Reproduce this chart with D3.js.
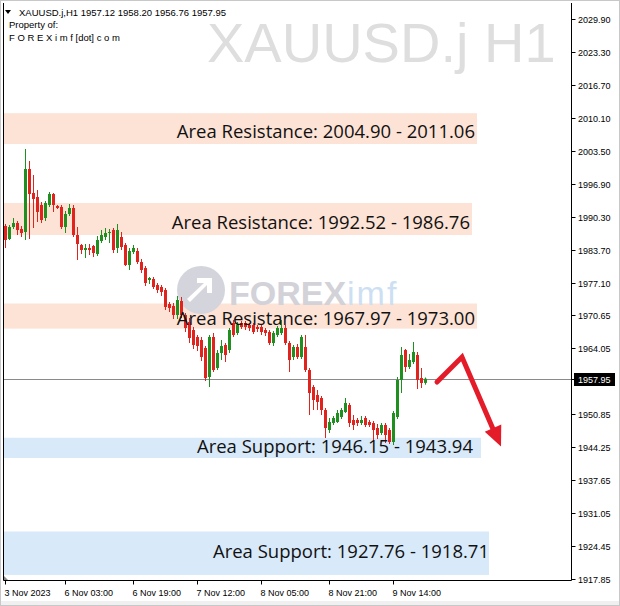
<!DOCTYPE html>
<html><head><meta charset="utf-8">
<script src="https://cdn.jsdelivr.net/npm/d3@7"></script>
<style>html,body{margin:0;padding:0;background:#fff;}svg{display:block;}</style>
</head><body>
<script>
// ---- data ----
const ohlcHeader = ["1957.12", "1958.20", "1956.76", "1957.95"];
const openP = [1988.5,1985.9,1988.3,1989.1,1987.9,1987.3,1999.9,1995.1,1994.3,1992.7,
1990.1,1992.7,1994.9,1992.5,1992.3,1988.3,1990.9,1992.1,1986.7,1984.7,
1983.7,1984.1,1984.5,1982.9,1985.5,1986.3,1987.1,1987.7,1984.1,1986.3,
1984.7,1980.7,1983.3,1983.5,1981.3,1980.1,1977.7,1977.9,1976.7,1976.3,
1975.7,1972.9,1972.5,1970.7,1973.5,1970.7,1969.3,1967.7,1966.3,1965.7,
1964.1,1958.3,1966.3,1960.1,1963.1,1964.7,1963.7,1969.1,1967.1,1969.1,
1969.1,1968.7,1968.7,1968.3,1968.3,1967.7,1967.3,1965.1,1966.7,1967.1,
1968.1,1965.1,1962.3,1964.3,1962.3,1964.3,1959.7,1956.3,1954.7,1954.1,
1951.7,1947.7,1949.1,1949.3,1950.3,1951.3,1952.7,1949.7,1949.7,1949.1,
1950.1,1949.3,1949.1,1948.1,1947.1,1948.7,1947.7,1945.3,1950.3,1957.7,
1963.7,1960.3,1961.3,1962.7,1958.1,1957.12];
const highP = [1988.9,1988.7,1990.1,1989.5,1988.5,2003.9,2001.5,1998.7,1995.7,1993.3,
1993.5,1995.3,1995.1,1992.7,1992.7,1991.5,1992.9,1992.7,1988.3,1984.9,
1984.9,1984.9,1984.7,1986.5,1987.7,1988.1,1987.9,1988.1,1988.9,1987.3,
1985.1,1984.1,1984.7,1984.1,1981.9,1980.5,1978.3,1978.3,1977.1,1976.7,
1976.1,1973.3,1973.1,1974.5,1974.3,1971.1,1970.1,1968.3,1966.7,1966.3,
1964.5,1966.7,1967.1,1963.7,1965.7,1965.1,1968.1,1969.7,1969.3,1969.5,
1969.5,1969.1,1969.1,1968.7,1968.7,1968.1,1967.7,1967.5,1968.5,1969.7,
1968.7,1965.5,1964.7,1964.9,1966.7,1966.7,1960.1,1956.7,1955.7,1954.5,
1952.1,1950.1,1950.5,1951.7,1952.1,1954.1,1953.1,1950.7,1950.1,1950.5,
1950.5,1949.7,1949.5,1948.9,1949.1,1949.1,1948.1,1951.5,1958.3,1964.3,
1963.9,1962.9,1965.3,1963.3,1960.1,1958.20];
const lowP = [1984.1,1985.7,1987.9,1986.7,1986.3,1985.7,1985.9,1988.1,1989.3,1989.1,
1989.5,1992.3,1991.3,1991.9,1987.9,1987.1,1990.5,1986.3,1981.7,1982.9,
1982.1,1982.7,1982.3,1982.5,1985.1,1985.7,1985.1,1983.1,1983.1,1983.7,
1980.5,1979.7,1982.9,1980.9,1979.1,1976.5,1976.9,1975.9,1975.1,1974.5,
1971.7,1971.3,1969.9,1969.9,1970.1,1967.3,1965.1,1963.9,1963.5,1961.5,
1957.5,1956.3,1959.3,1959.7,1961.7,1961.3,1963.1,1966.3,1966.7,1967.9,
1967.7,1967.5,1966.9,1967.3,1966.7,1966.5,1964.7,1964.5,1966.3,1966.7,
1964.7,1959.3,1961.7,1961.9,1961.9,1959.3,1950.7,1951.7,1951.7,1950.7,
1946.1,1947.1,1948.7,1949.1,1949.9,1951.1,1948.3,1947.7,1948.5,1948.7,
1948.3,1948.3,1945.7,1945.9,1946.7,1945.1,1944.9,1944.7,1949.9,1955.1,
1959.3,1959.9,1960.9,1955.9,1956.1,1956.76];
const closeP = [1985.7,1988.3,1989.1,1987.7,1987.1,1999.9,1994.9,1993.9,1991.3,1989.7,
1993.1,1994.9,1992.7,1992.1,1988.3,1990.9,1992.1,1986.7,1984.9,1983.7,
1984.1,1983.7,1983.1,1985.7,1986.7,1987.1,1987.3,1983.7,1987.7,1984.3,
1980.7,1983.5,1984.1,1981.3,1979.7,1977.1,1978.1,1976.3,1975.7,1975.3,
1972.3,1972.1,1970.7,1973.7,1970.7,1968.1,1966.1,1964.7,1964.5,1962.3,
1958.1,1966.3,1959.7,1963.1,1964.5,1962.7,1967.7,1966.7,1968.7,1968.3,
1968.3,1968.1,1967.3,1967.9,1967.3,1967.1,1965.1,1967.1,1968.1,1968.1,
1965.1,1961.7,1964.3,1962.3,1966.3,1959.7,1955.1,1953.7,1953.3,1951.7,
1948.1,1949.3,1950.1,1951.1,1951.7,1953.1,1949.1,1948.7,1949.1,1949.7,
1948.7,1948.7,1947.7,1946.7,1948.7,1946.7,1945.3,1951.1,1957.7,1962.7,
1960.3,1961.7,1963.3,1957.7,1957.1,1957.95];
const priceTicks = ["2029.90","2023.30","2016.70","2010.10","2003.50","1996.90","1990.30","1983.70","1977.10","1970.65","1964.05","1950.85","1944.25","1937.65","1931.05","1924.45","1917.85"];
const lastPrice = 1957.95;
const timeLabels = ["3 Nov 2023","6 Nov 03:00","6 Nov 19:00","7 Nov 12:00","8 Nov 05:00","8 Nov 21:00","9 Nov 14:00"];
const timeIdx = [0,15,32,48,64,81,97];
// zones: upper price, lower price, right-end bar index, label text, label centre price
const zoneKind  = ["res","res","res","sup","sup"];
const zoneTop   = [2011.06, 1993.1, 1973.00, 1946.15, 1927.40];
const zoneBot   = [2004.90, 1986.7, 1967.97, 1942.10, 1918.71];
const zoneEnd   = [118, 116.75, 118, 119, 121];
const zoneLabel = ["Area Resistance: 2004.90 - 2011.06","Area Resistance: 1992.52 - 1986.76","Area Resistance: 1967.97 - 1973.00","Area Support: 1946.15 - 1943.94","Area Support: 1927.76 - 1918.71"];
const zoneLabelEnd = [117.5, 116.25, 117.5, 117, 121];
const zoneLabelPrice = [2007.4, 1989.2, 1970.0, 1944.4, 1923.4];
// forecast arrow in (bar index, price)
const arrowIdx = [108, 114.25, 122.6];
const arrowPx  = [1957.3, 1962.3, 1946.8];
const arrowTip = [124, 1944.4];

// ---- layout ----
const W = 620, H = 606;
const L = 3.5, R = 571.5, T = 3, B = 580.5;
const svg = d3.select("body").append("svg").attr("width", W).attr("height", H);
svg.append("rect").attr("width", W).attr("height", H).attr("fill", "#fff");
svg.append("rect").attr("x",0).attr("y",601).attr("width",W).attr("height",5).attr("fill","#f0f0f0");
svg.append("rect").attr("x",0.5).attr("y",0.5).attr("width",W-1).attr("height",H-1).attr("fill","none").attr("stroke","#c8c8c8");

const y = d3.scaleLinear().domain([1917.85, 2029.90]).range([579.25, 19]);
const x = d3.scaleLinear().domain([0, 105]).range([5, 425]);

// watermark
svg.append("text").attr("x", 207).attr("y", 62).attr("font-family","Liberation Sans, Arial, sans-serif")
  .attr("font-size", 56).attr("fill", "#dedede").text("XAUUSD.j H1");

// zones
const zones = zoneKind.map((k,i)=>({k, top:zoneTop[i], bot:zoneBot[i], end:zoneEnd[i], label:zoneLabel[i], lend:zoneLabelEnd[i], lp:zoneLabelPrice[i]}));
svg.append("g").selectAll("rect").data(zones).join("rect")
  .attr("x", L+0.5).attr("y", d=>y(d.top)).attr("width", d=>x(d.end)-L-0.5)
  .attr("height", d=>y(d.bot)-y(d.top))
  .attr("fill", d=>d.k==="res" ? "#fde3d6" : "#d8e9f9");

// FOREXimf logo watermark
const logo = svg.append("g");
logo.append("circle").attr("cx", 201).attr("cy", 290).attr("r", 24).attr("fill", "#d4d4dc");
logo.append("path").attr("d","M190,302 L207,285 L207,293 L212,293 L212,278 L197,278 L197,283 L204,283 L187,299 Z").attr("fill","#fff");
logo.append("text").attr("x", 229).attr("y", 305).attr("font-family","Liberation Sans, Arial, sans-serif")
  .attr("font-weight","bold").attr("font-size", 34).attr("fill","#d2d2d8").text("FOREX");
logo.append("text").attr("x", 347).attr("y", 305).attr("font-family","Liberation Sans, Arial, sans-serif")
  .attr("font-size", 34).attr("letter-spacing", 2).attr("fill","#cddff3").text("imf");

// current price line
svg.append("line").attr("x1", L).attr("x2", R).attr("y1", Math.round(y(lastPrice))+0.5).attr("y2", Math.round(y(lastPrice))+0.5)
  .attr("stroke", "#8a8a8a").attr("stroke-width", 1);

// candles
const candles = openP.map((o,i)=>({i, o, h:highP[i], l:lowP[i], c:closeP[i]}));
const cg = svg.append("g");
const up = "#1f8f1f", dn = "#e0231c";
cg.selectAll("line").data(candles).join("line")
  .attr("x1", d=>Math.round(x(d.i))+0.5).attr("x2", d=>Math.round(x(d.i))+0.5)
  .attr("y1", d=>y(d.h)).attr("y2", d=>y(d.l))
  .attr("stroke", d=>d.c>=d.o?up:dn).attr("stroke-width",1);
cg.selectAll("rect").data(candles).join("rect")
  .attr("x", d=>Math.round(x(d.i))-1).attr("width", 3)
  .attr("y", d=>y(Math.max(d.o,d.c)))
  .attr("height", d=>Math.max(1, Math.abs(y(d.o)-y(d.c))))
  .attr("fill", d=>d.c>=d.o?up:dn);

// zone labels
svg.append("g").selectAll("text").data(zones).join("text")
  .attr("x", d=>x(d.lend)).attr("y", d=>y(d.lp))
  .attr("dy", "0.36em").attr("text-anchor","end")
  .attr("font-family","Open Sans, sans-serif").attr("font-size", 18.5).attr("fill","#111")
  .text(d=>d.label);

// arrow
const apts = arrowIdx.map((v,i)=>[x(v), y(arrowPx[i])]);
svg.append("path").attr("d", d3.line()(apts)).attr("fill","none").attr("stroke","#e41c2a")
  .attr("stroke-width",5).attr("stroke-linecap","round").attr("stroke-linejoin","miter");
const tip = [x(arrowTip[0]), y(arrowTip[1])];
const a1 = apts[1];
const ang = Math.atan2(tip[1]-a1[1], tip[0]-a1[0]);
const hl = 20, hw = 9;
const bx = tip[0]-hl*Math.cos(ang), by = tip[1]-hl*Math.sin(ang);
svg.append("path").attr("d", `M${tip[0]},${tip[1]} L${bx+hw*Math.sin(ang)},${by-hw*Math.cos(ang)} L${bx-hw*Math.sin(ang)},${by+hw*Math.cos(ang)} Z`)
  .attr("fill","#e41c2a");

// frame
svg.append("path").attr("d", `M${L},${T} V${B} H${R} V${T}`).attr("fill","none").attr("stroke","#000").attr("stroke-width",1);
svg.append("path").attr("d","M4,576 L8,580 L4,580 Z").attr("fill","#888");

// right axis
const ra = svg.append("g");
priceTicks.forEach(t=>{
  const yy = Math.round(y(+t))+0.5;
  ra.append("line").attr("x1",R).attr("x2",R+4).attr("y1",yy).attr("y2",yy).attr("stroke","#000");
  ra.append("text").attr("x", 578).attr("y", yy).attr("dy","0.35em").attr("font-family","Liberation Sans, Arial, sans-serif")
    .attr("font-size", 9).attr("fill","#000").text(t);
});
const ly = Math.round(y(lastPrice))+0.5;
ra.append("line").attr("x1",R).attr("x2",R+4).attr("y1",ly).attr("y2",ly).attr("stroke","#000");
ra.append("rect").attr("x",574).attr("y",ly-6.5).attr("width",41).attr("height",13).attr("fill","#000");
ra.append("text").attr("x", 578).attr("y", ly).attr("dy","0.35em").attr("font-family","Liberation Sans, Arial, sans-serif")
  .attr("font-size", 9).attr("fill","#fff").text(lastPrice.toFixed(2));

// bottom axis
const ba = svg.append("g");
timeLabels.forEach((t,i)=>{
  const xx = Math.round(x(timeIdx[i]))+0.5;
  ba.append("line").attr("x1",xx).attr("x2",xx).attr("y1",B).attr("y2",B+4).attr("stroke","#000");
  ba.append("text").attr("x", xx-1).attr("y", 596).attr("font-family","Liberation Sans, Arial, sans-serif")
    .attr("font-size", 9).attr("fill","#000").text(t);
});

// header
const hd = svg.append("g").attr("font-family","Liberation Sans, Arial, sans-serif").attr("fill","#000");
hd.append("path").attr("d","M5,10 L11,10 L8,14 Z").attr("fill","#000");
hd.append("text").attr("x",19).attr("y",16).attr("font-size",9.5).text("XAUUSD.j,H1  " + ohlcHeader.join(" "));
hd.append("text").attr("x",9).attr("y",28).attr("font-size",9.5).text("Property of:");
hd.append("text").attr("x",9).attr("y",41).attr("font-size",9.5).text("F O R E X i m f [dot] c o m");
</script>
</body></html>
